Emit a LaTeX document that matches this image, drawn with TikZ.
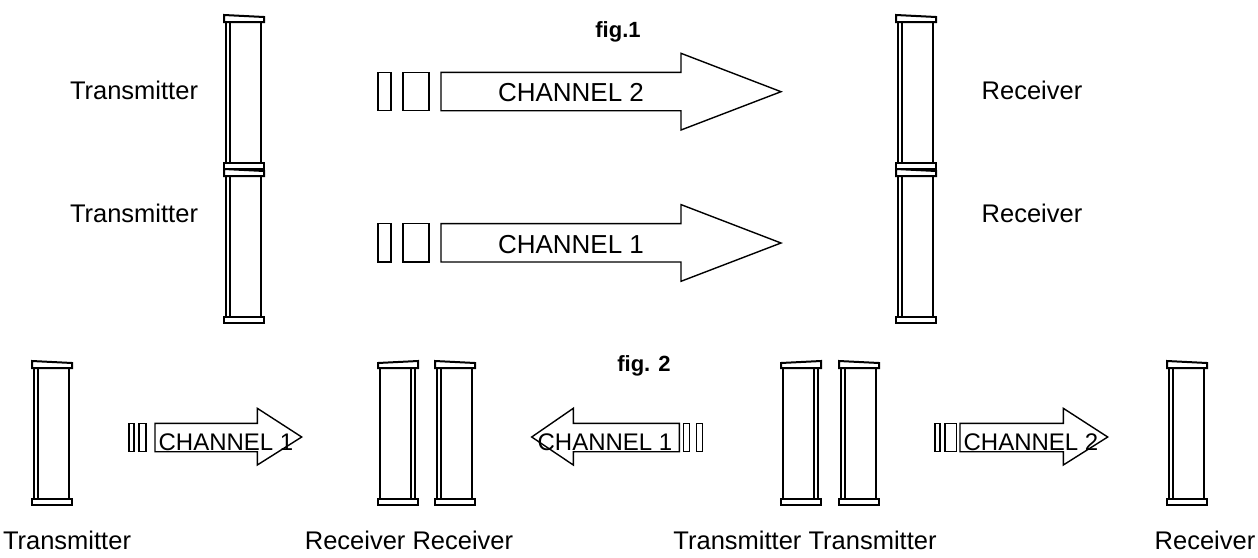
\documentclass[tikz,border=0pt]{standalone}
\usepackage{fontspec}
\setmainfont{Liberation Sans}
\newcommand\twr[4]{% left x of cap, top y, bottom y, side of double line (0 left, 1 right)
  \ifnum#4=0
    \draw[capline] (#1,#2) -- ({#1+40},{#2+2}) -- ({#1+40},{#2+7}) -- (#1,{#2+7}) -- cycle;
    \draw[innerline] ({#1+6},{#2+7}) -- ({#1+6},{#3-6});
  \else
    \draw[capline] (#1,{#2+2}) -- ({#1+40},#2) -- ({#1+40},{#2+7}) -- (#1,{#2+7}) -- cycle;
    \draw[innerline] ({#1+33},{#2+7}) -- ({#1+33},{#3-6});
  \fi
  \draw[capline] ({#1+2},{#2+7}) -- ({#1+2},{#3-6});
  \draw[capline] ({#1+37},{#2+7}) -- ({#1+37},{#3-6});
  \draw[capline] (#1,{#3-6}) rectangle ({#1+40},#3);
}
\newcommand\rarrow[8]{% bodyL, bTop, bBot, headB, hTop, hBot, tip, mid
  \draw[arrline] (#1,#2) -- (#4,#2) -- (#4,#5) -- (#7,#8) -- (#4,#6) -- (#4,#3) -- (#1,#3) -- cycle;
}
\begin{document}
\begin{tikzpicture}[x=1pt,y=-1pt,
  capline/.style={line width=2pt,line join=miter},
  innerline/.style={line width=1.5pt},
  arrline/.style={line width=1.4pt,fill=white,line join=miter},
  barbox/.style={line width=1.4pt},
  lbl/.style={inner sep=0pt,anchor=base,font=\fontsize{25.5}{28}\selectfont},
  chbig/.style={inner sep=0pt,anchor=base,font=\fontsize{26}{28}\selectfont},
  chsmall/.style={inner sep=0pt,anchor=base,font=\fontsize{24}{26}\selectfont},
  figlbl/.style={inner sep=0pt,anchor=base,font=\bfseries\fontsize{22}{24}\selectfont}]
\useasboundingbox (0,0) rectangle (1258,557);
% fig 1 towers
\twr{224}{15}{169}{0}
\twr{224}{169}{323}{0}
\twr{896}{15}{169}{0}
\twr{896}{169}{323}{0}
% fig 1 arrows
\draw[barbox] (378,72.3) rectangle (391,110.7);
\draw[barbox] (403,72.3) rectangle (429,110.7);
\rarrow{441}{72.3}{110.7}{681}{53.3}{130}{781}{91.7}
\draw[barbox] (378,223.6) rectangle (391,262);
\draw[barbox] (403,223.6) rectangle (429,262);
\rarrow{441}{223.6}{262}{681}{204.6}{281.3}{781}{243}
\node[chbig] (ch2a) at (571,101.7) {CHANNEL 2};
\node[chbig] (ch1a) at (571,253) {CHANNEL 1};
\node[figlbl] (fig1) at (618,37) {fig.1};
\node[lbl] (t1) at (134,99.3) {Transmitter};
\node[lbl] (t2) at (134,222) {Transmitter};
\node[lbl] (r1) at (1032,99.3) {Receiver};
\node[lbl] (r2) at (1032,222) {Receiver};
% fig 2 columns
\twr{32}{361}{505}{0}
\twr{378}{361}{505}{1}
\twr{435}{361}{505}{0}
\twr{781}{361}{505}{1}
\twr{839}{361}{505}{0}
\twr{1167}{361}{505}{0}
% fig 2 arrows
\draw[barbox] (129,423.3) rectangle (134,451.7);
\draw[barbox] (139,423.3) rectangle (146,451.7);
\rarrow{155}{423.3}{451.7}{257.3}{408.3}{465}{301.7}{437}
\rarrow{679.3}{423.3}{451.7}{573.3}{408.3}{465}{531.7}{437}
\draw[barbox] (683.3,423.3) rectangle (689.3,451.7);
\draw[barbox] (696.7,423.3) rectangle (702.7,451.7);
\draw[barbox] (935,423.3) rectangle (940,451.7);
\draw[barbox] (945,423.3) rectangle (956.7,451.7);
\rarrow{960}{423.3}{451.7}{1063.3}{408.3}{465}{1107.7}{437}
\node[chsmall] (c1) at (226,450) {CHANNEL 1};
\node[chsmall] (c2) at (605,450) {CHANNEL 1};
\node[chsmall] (c3) at (1031,450) {CHANNEL 2};
\node[figlbl] (fig2) at (644,371) {fig. 2};
\node[lbl] (bt1) at (67,549) {Transmitter};
\node[lbl] (br) at (409,549) {Receiver Receiver};
\node[lbl] (btt) at (805,549) {Transmitter Transmitter};
\node[lbl] (br2) at (1205,549) {Receiver};
\end{tikzpicture}
\end{document}
